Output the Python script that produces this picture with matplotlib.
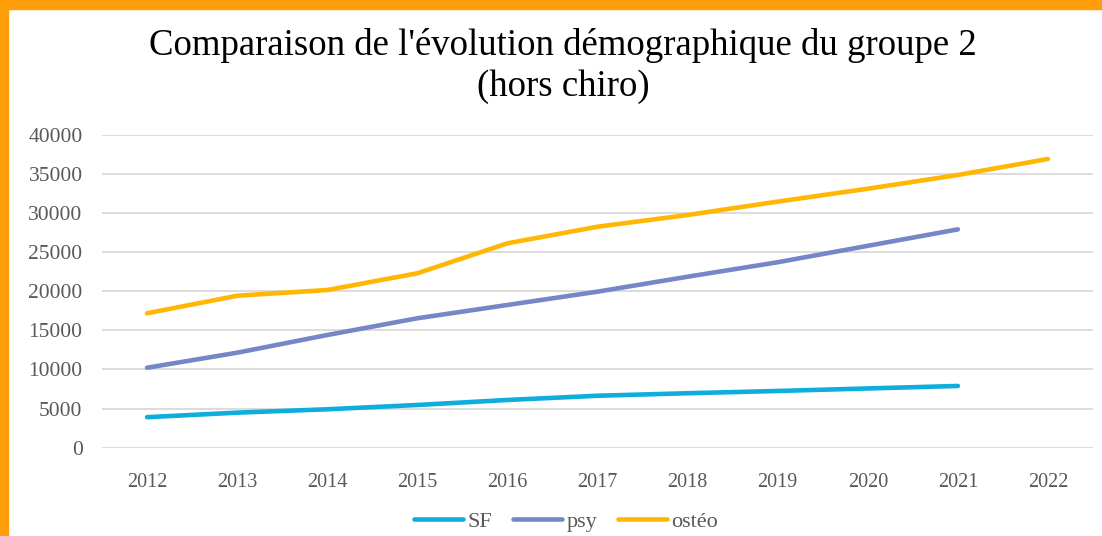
"""
plot.py
-------
Comparaison de l'évolution démographique du groupe 2 (hors chiro):
SF, psy and ostéo headcounts per year, drawn as three thick lines.
Saves out.png.
"""

import matplotlib.pyplot as plt
from matplotlib.patches import Rectangle

years = ["2012", "2013", "2014", "2015", "2016", "2017",
         "2018", "2019", "2020", "2021", "2022"]

# values (2022 only exists for ostéo)
sf = [3900, 4480, 4910, 5460, 6100, 6640, 6960, 7250, 7570, 7890]
psy = [10220, 12140, 14400, 16540, 18240, 19940, 21850, 23700, 25800, 27900]
osteo = [17180, 19420, 20150, 22290, 26120, 28240, 29740, 31450, 33100, 34850, 36900]

series_names = ["SF", "psy", "ostéo"]
series_colors = ["#0DADDC", "#7687C8", "#FFB704"]
border_color = "#FF9D0A"
label_grey = "#595959"

W, H = 1102, 536
fig = plt.figure(figsize=(W / 100, H / 100), dpi=100)
fig.patch.set_facecolor("white")

serif = ["Liberation Serif", "DejaVu Serif"]

# plot area in pixel coordinates of the reference
left, right, top, bottom = 102, 1093, 134.7, 447.7
ax = fig.add_axes([left / W, 1 - bottom / H, (right - left) / W, (bottom - top) / H])

x = list(range(len(years)))
for name, vals, col in zip(series_names, [sf, psy, osteo], series_colors):
    ax.plot(x[:len(vals)], vals, color=col, linewidth=3.3,
            solid_capstyle="round", solid_joinstyle="round", label=name, zorder=3)

ax.set_xlim(-0.5, len(years) - 0.5)
ax.set_ylim(0, 40000)
ax.set_yticks(range(0, 40001, 5000))
ax.set_xticks(x)
ax.set_xticklabels(years)
ax.grid(axis="y", color="#D9D9D9", linewidth=1.3, zorder=0)
ax.set_axisbelow(True)
for s in ax.spines.values():
    s.set_visible(False)
ax.tick_params(length=0, colors=label_grey)
ax.tick_params(axis="y", pad=14, labelsize=15.5)
ax.tick_params(axis="x", pad=18, labelsize=14.5)
for lbl in ax.get_xticklabels() + ax.get_yticklabels():
    lbl.set_fontfamily(serif)

# title, two lines
fig.text(563 / W, 1 - 66 / H,
         "Comparaison de l'évolution démographique du groupe 2\n(hors chiro)",
         ha="center", va="center", fontsize=26.5, family=serif,
         linespacing=1.22, color="black")

# legend at the bottom
fig.legend(loc="center", bbox_to_anchor=(566 / W, 1 - 522 / H), ncol=3,
           frameon=False, handlelength=2.2, handletextpad=0.2,
           columnspacing=0.95, prop={"family": serif, "size": 16},
           labelcolor=label_grey)

# orange frame on the left and top edges
fig.patches.append(Rectangle((0, 0), 8 / W, 1, transform=fig.transFigure,
                             color=border_color, zorder=10))
fig.patches.append(Rectangle((0, 1 - 9 / H), 1, 9 / H, transform=fig.transFigure,
                             color=border_color, zorder=10))

fig.savefig("out.png", dpi=100)
plt.close(fig)
